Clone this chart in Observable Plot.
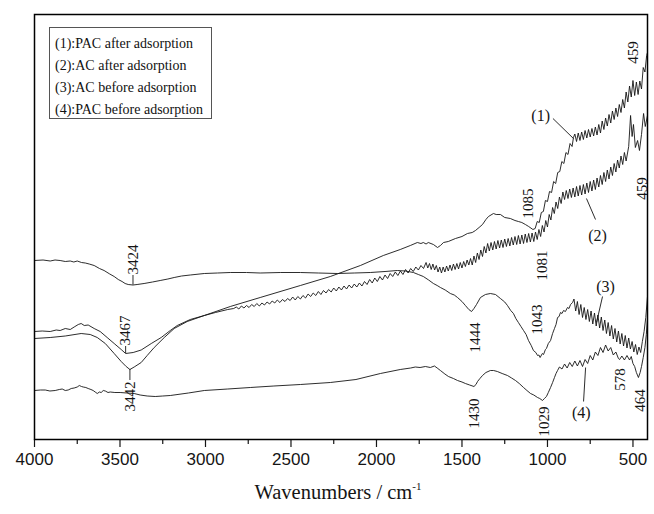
<!DOCTYPE html>
<html>
<head>
<meta charset="utf-8">
<script src="https://cdn.jsdelivr.net/npm/d3@7"></script>
<script src="https://cdn.jsdelivr.net/npm/@observablehq/plot@0.6"></script>
<style>
  body { margin: 0; background: #fff; }
  #chart { position: relative; width: 654px; height: 514px; }
  .legend {
    position: absolute; left: 49px; top: 27px; width: 163px; height: 92px;
    box-sizing: border-box; border: 1px solid #555; padding: 5px 0 0 5px;
    font: 14px "Liberation Serif", "Times New Roman", serif; line-height: 22px; color: #111;
    white-space: nowrap;
  }
</style>
</head>
<body>
<div id="chart"></div>
<script>
// FTIR spectra, wavenumber (cm-1) vs. transmittance (arbitrary units, offset traces)
const seriesNames = ["PAC after adsorption", "AC after adsorption", "AC before adsorption", "PAC before adsorption"];

// (1) PAC after adsorption
const pacAfter = [
  [4000,20.2],[3908,20.4],[3820,20.7],[3727,21.2],[3674,21.0],[3633,20.4],[3586,19.2],[3534,17.2],[3493,15.6],
  [3464,14.6],[3442,14.0],[3417,14.5],[3376,15.4],[3341,16.8],[3300,18.4],[3241,20.4],[3183,22.2],[3107,23.6],
  [3007,24.8],[2855,26.6],[2680,28.4],[2445,30.8],[2270,32.6],[2094,34.8],[1960,36.8],[1861,38.0],[1802,38.8],
  [1761,39.4],[1740,39.2],[1726,39.4],[1710,39.1],[1697,39.4],[1667,39.0],[1643,38.4],[1626,38.8],[1608,39.4],
  [1580,39.6],[1538,40.2],[1500,40.6],[1468,41.2],[1440,41.4],[1421,41.8],[1400,42.4],[1380,43.0],[1360,44.0],
  [1345,44.6],[1316,45.2],[1300,45.0],[1275,45.0],[1250,44.4],[1217,44.2],[1190,43.8],[1170,43.6],[1150,43.4],
  [1129,43.0],[1110,42.6],[1085,42.0],[1072,42.2],[1060,43.6],[1048,43.4],[1036,45.4],[1024,45.6],[1012,47.8],
  [1000,47.6],[988,49.6],[976,49.4],[964,51.6],[952,51.2],[940,53.4],[928,53.6],[916,55.6],[904,55.2],[892,57.4],
  [880,57.0],[868,59.2],[856,58.6],[848,60.4],[840,61.1],[830,59.6],[820,61.3],[810,59.8],[800,61.5],[790,60.0],
  [780,61.8],[770,60.3],[760,62.0],[750,60.5],[740,62.2],[730,60.7],[720,62.5],[710,60.9],[700,63.0],[690,61.3],
  [680,63.7],[670,62.0],[660,64.3],[650,62.7],[640,65.0],[630,63.3],[620,65.7],[610,64.0],[600,66.3],[590,64.6],
  [580,67.0],[570,65.4],[560,68.0],[550,66.3],[540,69.5],[530,67.5],[520,70.7],[510,68.5],[500,71.8],[490,68.8],
  [480,71.5],[470,69.0],[460,71.7],[450,70.1],[440,74.4],[430,73.5],[420,76.8],[415,77.4]
];

// (2) AC after adsorption
const acAfter = [
  [4000,21.6],[3955,21.7],[3908,21.6],[3873,21.9],[3850,21.8],[3820,22.2],[3791,22.0],[3768,22.5],[3744,23.0],
  [3727,23.2],[3709,22.8],[3686,22.9],[3651,22.2],[3616,21.6],[3575,20.4],[3534,19.2],[3493,18.0],[3467,17.2],
  [3423,17.4],[3376,17.9],[3317,19.2],[3259,20.4],[3206,21.8],[3165,22.8],[3089,24.0],[3007,24.8],[2942,25.4],
  [2870,26.0],[2835,26.2],
  [2820,26.5],[2805,26.1],[2790,26.7],[2775,26.3],[2760,26.8],[2745,26.4],[2730,27.0],[2715,26.6],[2700,27.2],
  [2685,26.7],[2670,27.3],[2655,26.9],[2640,27.5],[2625,27.1],[2610,27.7],[2595,27.3],[2580,27.9],[2565,27.4],
  [2550,28.0],[2535,27.6],[2520,28.2],[2505,27.8],[2490,28.5],[2475,27.9],[2460,28.6],[2445,28.1],[2430,28.8],
  [2415,28.3],[2400,29.1],[2385,28.6],[2370,29.3],[2355,28.8],[2340,29.6],[2325,29.0],[2310,29.8],[2295,29.3],
  [2280,30.0],[2265,29.5],[2250,30.3],[2235,29.7],[2220,30.5],[2205,29.9],[2190,30.7],[2175,30.1],[2160,30.9],
  [2145,30.3],[2130,31.1],[2115,30.5],[2100,31.3],[2085,30.7],[2070,31.6],[2055,31.0],[2040,32.0],[2025,31.3],
  [2010,32.3],[1995,31.6],[1980,32.6],[1965,31.9],[1950,32.9],[1935,32.2],[1920,33.2],[1905,32.6],[1890,33.5],
  [1875,32.8],[1860,33.7],[1845,33.0],[1830,34.0],[1815,33.3],[1800,34.2],[1785,33.6],[1770,34.5],[1755,33.9],
  [1740,34.8],[1725,34.2],
  [1710,35.4],[1700,34.3],[1690,35.2],[1680,34.0],[1670,35.1],[1660,33.9],[1650,34.8],[1640,33.5],[1630,34.5],
  [1620,33.3],[1610,34.5],[1600,33.5],[1590,34.7],[1580,33.7],[1570,34.9],[1560,33.8],[1550,35.1],[1540,34.0],
  [1530,35.2],[1520,34.1],[1510,35.4],[1500,34.3],[1490,35.6],[1480,34.6],[1470,35.9],[1460,34.9],[1450,36.2],
  [1440,34.9],[1430,36.7],[1420,35.4],[1410,37.3],[1400,36.0],[1390,37.9],[1380,36.6],[1370,38.6],[1360,37.3],
  [1350,39.2],[1340,37.7],[1330,39.4],[1320,37.9],[1310,39.6],[1300,38.1],[1290,39.8],[1280,38.3],[1270,39.9],
  [1260,38.4],[1250,40.1],[1240,38.6],[1230,40.2],[1220,38.7],[1210,40.4],[1200,38.9],[1190,40.6],[1180,39.0],
  [1170,40.8],[1160,39.1],[1150,40.9],[1140,39.2],[1130,41.1],[1120,39.4],[1110,41.2],[1100,39.5],[1090,41.3],
  [1080,39.6],[1070,41.5],[1060,40.0],[1050,42.0],[1040,40.6],[1030,42.8],[1020,41.5],[1010,43.8],[1000,42.5],
  [990,45.0],[980,43.9],[970,46.4],[960,45.2],[950,47.5],[940,46.2],[930,48.5],[920,47.2],[910,49.5],[900,48.0],
  [890,49.8],[880,48.2],[870,50.1],[860,48.4],[850,50.3],[840,48.5],[830,50.6],[820,48.7],[810,50.8],[800,48.9],
  [790,51.0],[780,49.1],[770,51.3],[760,49.4],[750,51.6],[740,49.7],[730,51.9],[720,50.0],[710,52.3],[700,50.5],
  [690,52.8],[680,51.0],[670,53.4],[660,51.6],[650,53.9],[640,52.1],[630,54.5],[620,52.8],[610,55.2],[600,53.5],
  [590,55.9],[580,54.3],[570,56.7],[560,55.0],[550,57.4],[540,55.7],
  [525,58.6],[514,64.8],[505,60.6],[497,63.0],[486,58.4],[473,59.8],[462,57.8],[450,61.0],[438,65.2],[428,62.6],
  [415,64.8]
];

// (3) AC before adsorption
const acBefore = [
  [4000,35.8],[3950,35.9],[3908,35.7],[3880,35.9],[3850,35.8],[3820,35.6],[3791,35.7],[3770,35.5],[3750,35.7],
  [3725,35.4],[3703,35.3],[3680,35.1],[3651,34.8],[3620,34.2],[3593,33.8],[3560,33.1],[3534,32.6],[3510,32.0],
  [3488,31.6],[3470,31.2],[3452,31.0],[3424,30.9],[3400,31.0],[3359,31.2],[3310,31.5],[3265,31.8],[3220,32.1],
  [3183,32.4],[3140,32.7],[3089,32.9],[3007,33.2],[2930,33.3],[2855,33.4],[2760,33.4],[2680,33.3],[2560,33.4],
  [2445,33.4],[2340,33.3],[2229,33.2],[2130,33.3],[2036,33.4],[1950,33.6],[1878,33.8],[1831,33.7],[1784,33.4],
  [1755,33.0],[1726,32.6],[1695,31.9],[1667,31.2],[1645,30.8],[1626,30.4],[1598,29.9],[1568,29.2],[1545,28.9],
  [1526,28.4],[1500,27.6],[1480,26.8],[1460,26.0],[1444,25.6],[1430,26.2],[1415,27.0],[1392,28.4],[1363,29.0],
  [1334,29.2],[1304,29.0],[1275,28.2],[1250,27.5],[1234,26.8],[1215,25.8],[1199,25.2],[1185,24.2],[1170,23.4],
  [1155,22.6],[1140,21.8],[1125,21.0],[1111,19.8],[1095,18.8],[1082,17.8],[1068,17.4],[1058,16.8],[1050,16.9],
  [1043,16.4],[1030,17.2],[1023,17.0],[1012,18.0],[1006,18.2],[995,19.2],[982,19.8],[970,21.2],[959,22.2],
  [950,23.0],[941,24.4],[932,24.6],[924,25.4],[915,25.2],[906,25.8],[895,25.6],[883,26.4],[874,26.2],[865,27.0],
  [853,27.4],
  [845,28.1],[835,25.7],[825,27.6],[815,25.0],[805,27.0],[795,24.4],[785,26.4],[775,24.0],[765,26.0],[755,23.6],
  [745,25.7],[735,23.1],[725,25.3],[715,22.7],[705,24.9],[695,22.3],[685,24.5],[675,21.8],[665,23.9],[655,21.2],
  [645,23.4],[635,20.7],[625,22.8],[615,20.1],[605,22.2],[595,19.5],[585,21.7],[575,19.1],[565,21.2],[555,18.7],
  [545,20.8],[535,18.3],[525,20.3],[515,18.1],[505,19.6],[495,17.5],[485,19.0],[475,17.0],[465,18.5],[455,17.4],
  [445,19.6],[435,21.6],[425,24.4],[415,28.6]
];

// (4) PAC before adsorption
const pacBefore = [
  [4000,9.8],[3965,9.9],[3937,9.9],[3910,9.7],[3879,9.8],[3855,10.0],[3838,10.1],[3820,9.8],[3803,9.9],[3785,10.2],
  [3768,10.3],[3750,10.5],[3738,10.8],[3725,10.6],[3715,10.5],[3700,10.4],[3686,10.2],[3670,10.0],[3657,9.8],
  [3645,9.5],[3633,9.2],[3620,9.5],[3610,9.4],[3598,9.8],[3586,9.7],[3570,9.4],[3557,9.5],[3530,9.4],[3499,9.4],
  [3460,9.3],[3417,9.2],[3382,8.9],[3341,8.7],[3294,8.6],[3250,8.7],[3206,8.8],[3100,9.3],[3007,9.8],[2870,10.1],
  [2738,10.4],[2600,10.7],[2445,11.0],[2270,11.4],[2120,12.0],[1977,13.2],[1861,14.0],[1800,14.3],[1773,14.5],
  [1745,14.4],[1714,14.6],[1685,14.4],[1661,14.7],[1645,14.3],[1626,13.8],[1600,13.1],[1579,12.6],[1550,12.2],
  [1526,11.8],[1500,11.5],[1480,11.2],[1455,10.9],[1430,10.6],[1418,11.0],[1409,11.6],[1395,12.2],[1380,12.8],
  [1360,13.4],[1334,13.8],[1315,13.8],[1293,13.6],[1265,13.2],[1234,12.8],[1210,12.3],[1187,11.8],[1165,11.2],
  [1140,10.4],[1120,9.8],[1099,9.2],[1080,8.9],[1058,8.4],[1045,8.2],[1029,7.8],[1018,8.2],[1006,8.6],[995,9.4],
  [982,10.4],[970,11.4],[959,12.4],[950,13.2],[941,13.8],[930,14.5],[915,14.1],[900,15.1],[885,14.3],[870,15.4],
  [855,14.6],[840,15.7],[825,14.7],[810,15.8],[795,14.6],[780,16.0],[765,15.2],[750,16.8],[735,15.9],[720,17.5],
  [705,16.8],[690,18.4],[675,17.4],[660,18.9],[645,17.7],[630,18.4],[615,16.9],[600,17.5],[585,16.2],[578,16.0],
  [565,16.7],[550,15.9],[535,16.8],[520,15.9],[510,16.6],[500,15.2],[490,14.6],[480,13.4],[468,12.4],[458,13.4],
  [450,14.6],[440,16.4],[430,18.4],[422,21.0],[415,24.2]
];

// x-axis ticks (cm-1)
const majorTicks = [4000, 3500, 3000, 2500, 2000, 1500, 1000, 500];
const minorTicks = [3750, 3250, 2750, 2250, 1750, 1250, 750];

// band assignments written beside the traces (text centre in data coordinates)
const peakLabels = [
  {text: "459",  w: 497,  t: 77.4},
  {text: "459",  w: 444,  t: 50.2},
  {text: "1085", w: 1111, t: 47.2},
  {text: "1081", w: 1029, t: 34.8},
  {text: "1444", w: 1421, t: 20.4},
  {text: "1043", w: 1059, t: 24.0},
  {text: "1430", w: 1427, t: 5.2},
  {text: "1029", w: 1017, t: 3.6},
  {text: "578",  w: 573,  t: 12.0},
  {text: "464",  w: 456,  t: 7.8},
  {text: "3424", w: 3424, t: 36.0},
  {text: "3467", w: 3467, t: 21.8},
  {text: "3442", w: 3442, t: 8.6}
];
// short leaders from the O–H band labels to the minima
const peakLeaders = [
  {w: 3424, t1: 30.9, t2: 32.8},
  {w: 3467, t1: 17.2, t2: 18.6},
  {w: 3442, t1: 14.0, t2: 11.8}
];
// trace numbers with their pointer lines
const traceTags = [
  {tag: "(1)", w: 1040, t: 64.8, w1: 968, t1: 64.2, w2: 848, t2: 60.2},
  {tag: "(2)", w: 707,  t: 40.8, w1: 719, t1: 44.0, w2: 772, t2: 48.2},
  {tag: "(3)", w: 660,  t: 30.6, w1: 678, t1: 28.6, w2: 713, t2: 23.4},
  {tag: "(4)", w: 802,  t: 5.4,  w1: 789, t1: 7.6,  w2: 777, t2: 14.4}
];

const traces = [pacAfter, acAfter, acBefore, pacBefore];
const rows = traces.flatMap((pts, i) => pts.map(([w, t]) => ({series: seriesNames[i], w, t})));

const serif = "'Liberation Serif', 'Times New Roman', serif";
const sans = "'Liberation Sans', Arial, sans-serif";
const ink = "#151515";

const chart = Plot.plot({
  width: 654,
  height: 514,
  marginLeft: 34,
  marginRight: 7,
  marginTop: 14,
  marginBottom: 75,
  x: {domain: [4000, 415]},
  y: {domain: [0, 85], axis: null},
  style: {background: "#fff", fontFamily: sans, fontSize: "17px", color: ink},
  marks: [
    Plot.line(rows, {x: "w", y: "t", z: "series", stroke: ink, strokeWidth: 0.9, strokeLinejoin: "round"}),
    Plot.ruleX(peakLeaders, {x: "w", y1: "t1", y2: "t2", stroke: ink, strokeWidth: 0.9}),
    Plot.link(traceTags, {x1: "w1", y1: "t1", x2: "w2", y2: "t2", stroke: ink, strokeWidth: 0.9}),
    Plot.text(traceTags, {x: "w", y: "t", text: "tag", fontFamily: serif, fontSize: 16, fill: ink}),
    Plot.text(peakLabels, {x: "w", y: "t", text: "text", rotate: -90, fontFamily: serif, fontSize: 15, fill: ink}),
    Plot.axisX({ticks: majorTicks, tickFormat: "d", tickSize: 8, tickPadding: 5, strokeWidth: 1.2, label: null}),
    Plot.axisX({ticks: minorTicks, tickFormat: () => "", tickSize: 5, strokeWidth: 1.2, label: null}),
    Plot.frame({stroke: "#000", strokeWidth: 1.5})
  ]
});

// x-axis title with superscript unit
const title = d3.select(chart).append("text")
  .attr("x", 338).attr("y", 499)
  .attr("text-anchor", "middle")
  .attr("font-family", serif)
  .attr("font-size", 20.5)
  .attr("fill", ink)
  .text("Wavenumbers / cm");
title.append("tspan").attr("font-size", 11).attr("dy", -9).text("-1");

const root = document.getElementById("chart");
root.appendChild(chart);

// legend box listing the four samples
const legend = document.createElement("div");
legend.className = "legend";
seriesNames.forEach((name, i) => {
  const line = document.createElement("div");
  line.textContent = `(${i + 1}):${name}`;
  legend.appendChild(line);
});
root.appendChild(legend);
</script>
</body>
</html>
